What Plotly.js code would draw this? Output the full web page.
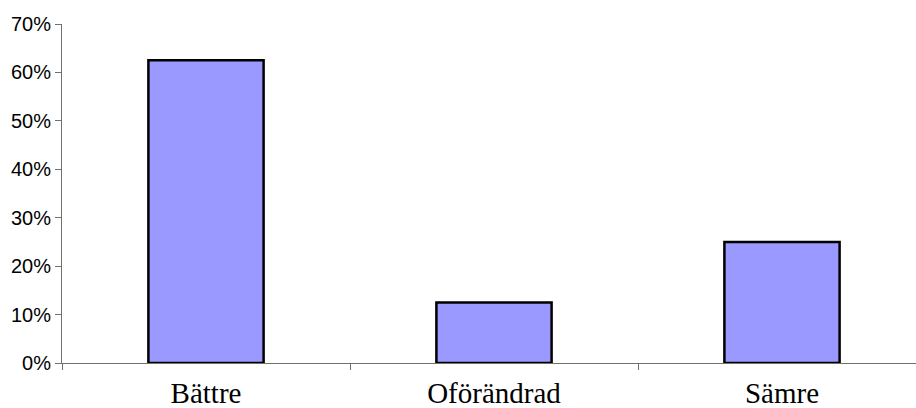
<!DOCTYPE html>
<html>
<head>
<meta charset="utf-8">
<script src="https://cdn.plot.ly/plotly-3.0.1.min.js"></script>
<style>
html,body{margin:0;padding:0;overflow:hidden;background:#fff;width:916px;height:408px;}
#chart{width:930px;height:408px;}
</style>
</head>
<body>
<div id="chart"></div>
<script>
const categories = ["Bättre", "Oförändrad", "Sämre"];
const values = [0.625, 0.125, 0.25];
const yTickValues = [0, 0.1, 0.2, 0.3, 0.4, 0.5, 0.6, 0.7];
const yTickLabels = ["0%", "10%", "20%", "30%", "40%", "50%", "60%", "70%"];

const trace = {
  type: "bar",
  x: categories,
  y: values,
  marker: { color: "#9999FF", line: { color: "#000000", width: 2.5 } },
  hoverinfo: "none"
};

const layout = {
  width: 930,
  height: 408,
  margin: { l: 62, r: 4, t: 24, b: 45 },
  paper_bgcolor: "#ffffff",
  plot_bgcolor: "#ffffff",
  bargap: 0.6,
  showlegend: false,
  xaxis: {
    type: "category",
    showgrid: false,
    zeroline: false,
    showline: true,
    linecolor: "#707070",
    linewidth: 1,
    ticks: "outside",
    tickson: "boundaries",
    ticklen: 6,
    tickcolor: "#707070",
    ticklabelstandoff: 4,
    tickfont: { family: "Liberation Serif, Times New Roman, serif", size: 29, color: "#000" },
    range: [-0.5, 2.5]
  },
  yaxis: {
    range: [0, 0.7],
    showgrid: false,
    zeroline: false,
    showline: true,
    linecolor: "#707070",
    linewidth: 1,
    ticks: "outside",
    ticklen: 6,
    tickcolor: "#707070",
    tickvals: yTickValues,
    ticktext: yTickLabels,
    tickfont: { family: "Liberation Sans, Arial, sans-serif", size: 20, color: "#000" }
  }
};

Plotly.newPlot("chart", [trace], layout, { displayModeBar: false, staticPlot: true });
</script>
</body>
</html>
